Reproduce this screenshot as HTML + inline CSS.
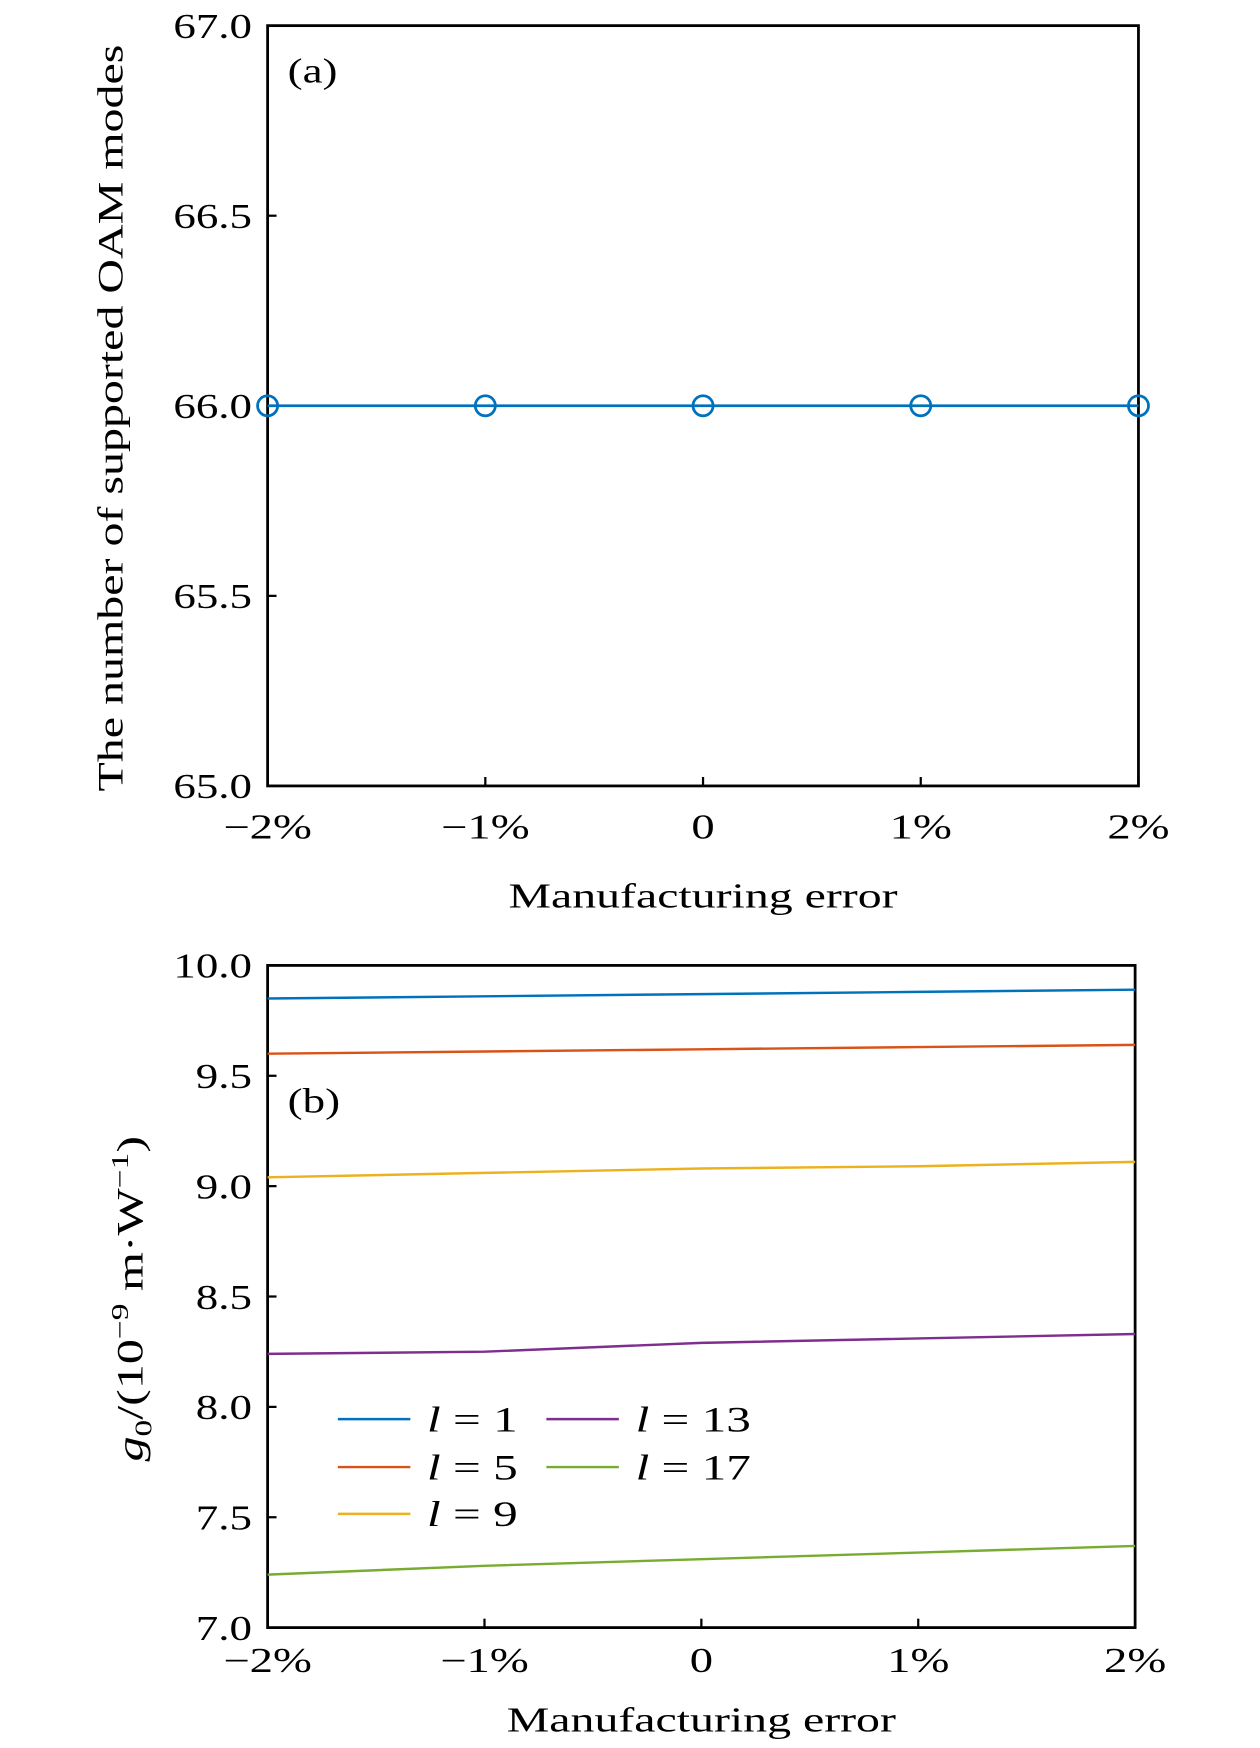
<!DOCTYPE html>
<html><head><meta charset="utf-8"><style>
html,body{margin:0;padding:0;background:#fff}
svg{display:block}
text{font-family:"Liberation Serif",serif;fill:#000}
</style></head><body>
<svg id="fig" width="1260" height="1748" viewBox="0 0 1130 1568" preserveAspectRatio="none" xmlns="http://www.w3.org/2000/svg">
<g id="pa"></g>
<g id="pb"></g>
</svg>
<script>
const xCats=[-2,-1,0,1,2];
const xTickLabels=["\u22122%","\u22121%","0","1%","2%"];
const aValues=[66,66,66,66,66];
const aTicks=[65.0,65.5,66.0,66.5,67.0];
const bTicks=[7.0,7.5,8.0,8.5,9.0,9.5,10.0];
const l1=[9.85,9.86,9.87,9.88,9.89];
const l5=[9.60,9.61,9.62,9.63,9.64];
const l9=[9.04,9.06,9.08,9.09,9.11];
const l13=[8.24,8.25,8.29,8.31,8.33];
const l17=[7.24,7.28,7.31,7.34,7.37];
const seriesNames=["l = 1","l = 5","l = 9","l = 13","l = 17"];
const NS="http://www.w3.org/2000/svg";
function mk(p,t,a,txt){const e=document.createElementNS(NS,t);for(const k in a)e.setAttribute(k,a[k]);if(txt!==undefined)e.textContent=txt;p.appendChild(e);return e;}
function widen(t,f){const w=t.getComputedTextLength();t.setAttribute('textLength',(w*f).toFixed(1));t.setAttribute('lengthAdjust','spacingAndGlyphs');}
function axes(g,L,R,T,B,ymin,ymax,yt,xlabY,xtitleY,name){
  const sx=v=>L+(v+2)/4*(R-L), sy=v=>B-(v-ymin)/(ymax-ymin)*(B-T);
  let r=mk(g,'rect',{x:L,y:T,width:R-L,height:B-T,fill:'none',stroke:'#000','stroke-width':2.5});
  
  xCats.forEach((c,i)=>{const x=sx(c);mk(g,'line',{x1:x,x2:x,y1:B,y2:B-8,stroke:'#000','stroke-width':2});
    let t=mk(g,'text',{x:x,y:xlabY,'text-anchor':'middle','font-size':31},xTickLabels[i]);
    widen(t,1.35);});
  yt.forEach(v=>{const y=sy(v);mk(g,'line',{x1:L,x2:L+8,y1:y,y2:y,stroke:'#000','stroke-width':2});
    let t=mk(g,'text',{x:L-14,y:y+11,'text-anchor':'end','font-size':31},v.toFixed(1));
    widen(t,1.3);});
  let xt=mk(g,'text',{x:(L+R)/2,y:xtitleY,'text-anchor':'middle','font-size':31},'Manufacturing error');
  
  xt.setAttribute('textLength','349');xt.setAttribute('lengthAdjust','spacingAndGlyphs');
  return {sx,sy};
}
const ga=document.getElementById('pa');
const A=axes(ga,240,1021,23,705,65,67,aTicks,752,814,'panel-a');
let pts=xCats.map((c,i)=>A.sx(c)+','+A.sy(aValues[i])).join(' ');
let pl=mk(ga,'polyline',{points:pts,fill:'none',stroke:'#0072BD','stroke-width':2.5});

xCats.forEach((c,i)=>{let m=mk(ga,'circle',{cx:A.sx(c),cy:A.sy(aValues[i]),r:9,fill:'none',stroke:'#0072BD','stroke-width':2.5});
  });
let la=mk(ga,'text',{x:258,y:74,'font-size':31},'(a)');widen(la,1.3);
let ya=mk(ga,'text',{x:0,y:0,'font-size':32,'text-anchor':'middle',transform:'translate(110,375) rotate(-90)'},'The number of supported OAM modes');

ya.setAttribute('textLength','670');ya.setAttribute('lengthAdjust','spacingAndGlyphs');
const gb=document.getElementById('pb');
const Bx=axes(gb,240,1018,866,1460,7,10,bTicks,1500,1553,'panel-b');
const series=[l1,l5,l9,l13,l17], colors=['#0072BD','#D95319','#EDB120','#7E2F8E','#77AC30'];
series.forEach((s,k)=>{let p=mk(gb,'polyline',{points:xCats.map((c,i)=>Bx.sx(c)+','+Bx.sy(s[i])).join(' '),fill:'none',stroke:colors[k],'stroke-width':2.2});
  });
let lb=mk(gb,'text',{x:258,y:998,'font-size':31},'(b)');widen(lb,1.3);
let yb=mk(gb,'text',{x:0,y:0,'font-size':33,'text-anchor':'middle',transform:'translate(128,1165) rotate(-90)'});

yb.innerHTML='<tspan font-style="italic">g</tspan><tspan font-size="22" dy="8">0</tspan><tspan dy="-8">/(10</tspan><tspan font-size="22" dy="-13">\u22129</tspan><tspan dy="13"> m\u00b7W</tspan><tspan font-size="22" dy="-13">\u22121</tspan><tspan dy="13">)</tspan>';
yb.setAttribute('textLength','292');yb.setAttribute('lengthAdjust','spacingAndGlyphs');
const legPos=[[303,1273],[303,1316],[303,1358],[490,1273],[490,1316]];
series.forEach((s,k)=>{const [x,y]=legPos[k];
  let ln=mk(gb,'line',{x1:x,x2:x+65,y1:y,y2:y,stroke:colors[k],'stroke-width':2.2});
  
  const parts=seriesNames[k].split(' = ');
  let t=mk(gb,'text',{x:x+80,y:y+11,'font-size':32});
  
  t.innerHTML='<tspan font-style="italic">'+parts[0]+'</tspan> = '+parts[1];
  widen(t,1.38);});
</script>
</body></html>
